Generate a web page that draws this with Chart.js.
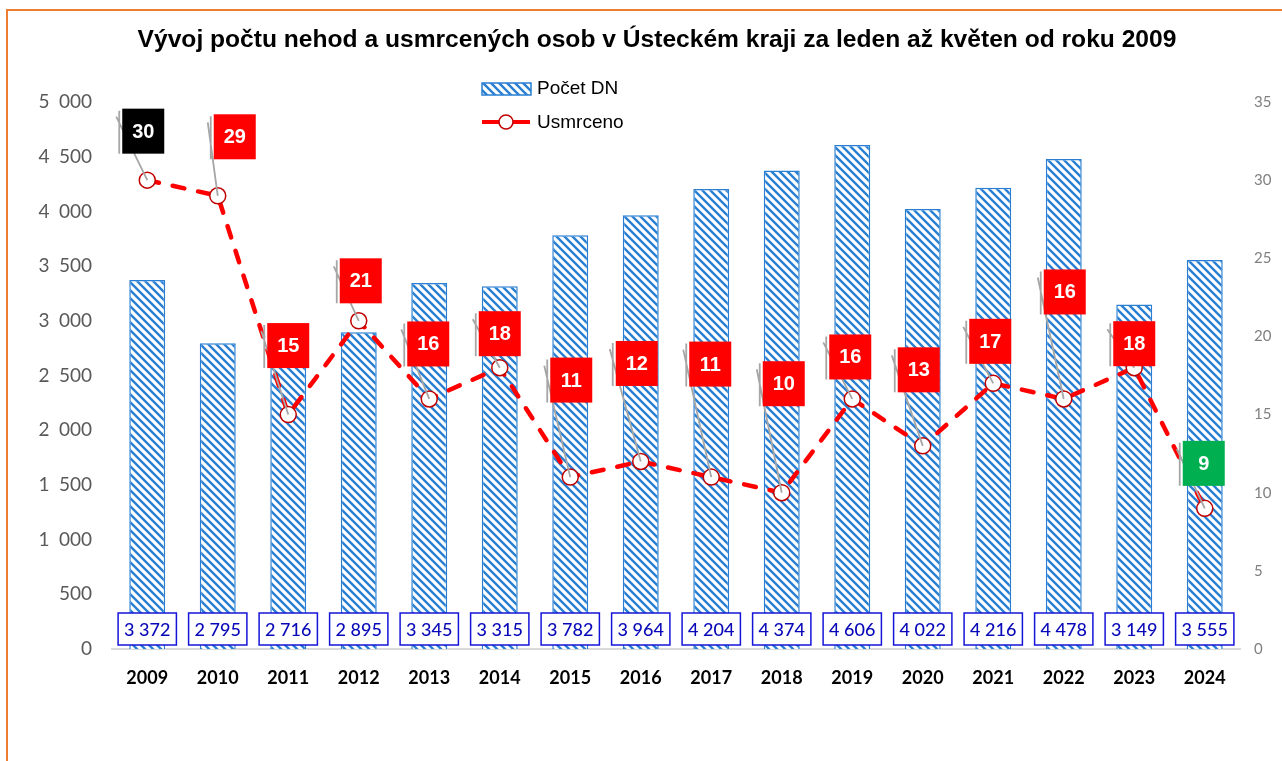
<!DOCTYPE html>
<html>
<head>
<meta charset="utf-8">
<script src="https://cdn.jsdelivr.net/npm/chart.js@4.4.1/dist/chart.umd.min.js"></script>
<style>
  body { margin: 0; background: #fff; }
  #wrap { position: relative; width: 1282px; height: 761px; }
  #frame { position: absolute; left: 6px; top: 9px; right: -4px; bottom: -4px;
           border-left: 2px solid #ED7D31; border-top: 2px solid #ED7D31; }
  canvas { position: absolute; left: 0; top: 0; }
</style>
</head>
<body>
<div id="wrap">
  <div id="frame"></div>
  <canvas id="chart" width="1282" height="761"></canvas>
</div>
<script>
// data
const years = ['2009', '2010', '2011', '2012', '2013', '2014', '2015', '2016',
               '2017', '2018', '2019', '2020', '2021', '2022', '2023', '2024'];
const accidents = [3372, 2795, 2716, 2895, 3345, 3315, 3782, 3964,
                   4204, 4374, 4606, 4022, 4216, 4478, 3149, 3555];
const killed = [30, 29, 15, 21, 16, 18, 11, 12, 11, 10, 16, 13, 17, 16, 18, 9];

// where each callout box sits relative to its marker (px)
const calloutDx = [-4, 17, 0, 2, -1, 0, 1, -4, -1, 2, -2, -4, -3, 1, 0, -1];
const calloutDy = [-49, -59, -69, -40, -55, -34, -97, -98, -113, -109, -42, -76, -42, -107, -24, -45];

const blue = '#2a7fd2';
const group = (v, sep) => String(v).replace(/\B(?=(\d{3})+(?!\d))/g, sep);

function makeHatch() {
  const c = document.createElement('canvas');
  c.width = 8; c.height = 8;
  const g = c.getContext('2d');
  g.fillStyle = '#fff';
  g.fillRect(0, 0, 8, 8);
  g.strokeStyle = blue;
  g.lineWidth = 2.4;
  g.beginPath();
  g.moveTo(-2, -2); g.lineTo(10, 10);
  g.moveTo(-2, 6); g.lineTo(2, 10);
  g.moveTo(6, -2); g.lineTo(10, 2);
  g.stroke();
  return g.createPattern(c, 'repeat');
}
const hatch = makeHatch();

const maxKilled = Math.max(...killed);
const minKilled = Math.min(...killed);

const labelsPlugin = {
  id: 'labels',
  afterDatasetsDraw(chart) {
    const ctx = chart.ctx;
    const barMeta = chart.getDatasetMeta(0);
    const lineMeta = chart.getDatasetMeta(1);
    const bottom = chart.scales.y.bottom;

    // value boxes at foot of bars
    ctx.save();
    ctx.font = '500 18px Lato';
    ctx.textAlign = 'center';
    ctx.textBaseline = 'middle';
    barMeta.data.forEach((bar, i) => {
      const txt = group(accidents[i], ' ');
      const w = ctx.measureText(txt).width + 12;
      const h = 32;
      const cy = bottom - 20;
      ctx.fillStyle = '#fff';
      ctx.fillRect(bar.x - w / 2, cy - h / 2, w, h);
      ctx.strokeStyle = '#1414d8';
      ctx.lineWidth = 1.5;
      ctx.strokeRect(bar.x - w / 2, cy - h / 2, w, h);
      ctx.fillStyle = '#0808b8';
      ctx.fillText(txt, bar.x, cy + 1);
    });
    ctx.restore();

    // callouts for killed
    ctx.save();
    ctx.font = 'bold 20px "Liberation Sans"';
    ctx.textAlign = 'center';
    ctx.textBaseline = 'middle';
    lineMeta.data.forEach((pt, i) => {
      const bw = 42, bh = 45;
      const cx = pt.x + calloutDx[i];
      const cy = pt.y + calloutDy[i];
      const left = cx - bw / 2, top = cy - bh / 2;
      ctx.strokeStyle = '#a6a6a6';
      ctx.lineWidth = 1.8;
      ctx.beginPath();
      ctx.moveTo(left - 3, top + 2);
      ctx.lineTo(left - 3, top + bh);
      ctx.moveTo(left - 6, top + 8);
      ctx.lineTo(pt.x, pt.y);
      ctx.stroke();
      let col = '#ff0000';
      if (killed[i] === maxKilled) col = '#000000';
      if (killed[i] === minKilled) col = '#00b050';
      ctx.fillStyle = col;
      ctx.fillRect(left, top, bw, bh);
      ctx.fillStyle = '#fff';
      ctx.fillText(String(killed[i]), cx, cy + 1);
    });
    ctx.restore();
  },
  afterDraw(chart) {
    // legend
    const ctx = chart.ctx;
    ctx.save();
    ctx.fillStyle = hatch;
    ctx.fillRect(482, 83, 49, 12);
    ctx.strokeStyle = blue;
    ctx.lineWidth = 1.5;
    ctx.strokeRect(482, 83, 49, 12);
    ctx.strokeStyle = '#ff0000';
    ctx.lineWidth = 4;
    ctx.beginPath();
    ctx.moveTo(482, 122);
    ctx.lineTo(530, 122);
    ctx.stroke();
    ctx.fillStyle = '#fff';
    ctx.strokeStyle = '#c00000';
    ctx.lineWidth = 1.5;
    ctx.beginPath();
    ctx.arc(506, 122, 7, 0, Math.PI * 2);
    ctx.fill();
    ctx.stroke();
    ctx.fillStyle = '#000';
    ctx.font = '19px "Liberation Sans"';
    ctx.textBaseline = 'middle';
    ctx.fillText(chart.data.datasets[0].label, 537, 89);
    ctx.fillText(chart.data.datasets[1].label, 537, 123);
    ctx.restore();
  }
};

new Chart(document.getElementById('chart').getContext('2d'), {
  data: {
    labels: years,
    datasets: [{
      type: 'bar',
      label: 'Počet DN',
      data: accidents,
      backgroundColor: hatch,
      borderColor: blue,
      borderWidth: 1.5,
      barPercentage: 0.51,
      categoryPercentage: 1,
      yAxisID: 'y',
      order: 2
    }, {
      type: 'line',
      label: 'Usmrceno',
      data: killed,
      borderColor: '#ff0000',
      borderWidth: 4.5,
      borderDash: [12, 14],
      borderCapStyle: 'round',
      tension: 0,
      pointRadius: 8,
      pointBackgroundColor: '#ffffff',
      pointBorderColor: '#c00000',
      pointBorderWidth: 1.5,
      yAxisID: 'y1',
      order: 1
    }]
  },
  options: {
    responsive: false,
    animation: false,
    events: [],
    layout: { padding: { left: 32, right: 0, top: 0, bottom: 0 } },
    plugins: {
      legend: { display: false },
      tooltip: { enabled: false },
      title: {
        display: true,
        text: 'Vývoj počtu nehod a usmrcených osob v Ústeckém kraji za leden až květen od roku 2009',
        color: '#000',
        font: { family: 'Liberation Sans', size: 24.6, weight: 'bold' },
        padding: { top: 25, bottom: 47.5 }
      }
    },
    scales: {
      x: {
        grid: { display: false, drawTicks: false },
        border: { display: true, color: '#d9d9d9', width: 2 },
        ticks: { color: '#000', font: { family: 'Lato', size: 18, weight: 'bold' }, padding: 18 },
        afterFit(scale) { scale.height = 112; }
      },
      y: {
        position: 'left',
        min: 0, max: 5000,
        grid: { display: false, drawTicks: false },
        border: { display: false },
        ticks: {
          stepSize: 500,
          color: '#595959',
          font: { family: 'Lato', size: 19 },
          padding: 20,
          callback: v => group(v, '\u2002')
        },
        afterFit(scale) { scale.width = 80; }
      },
      y1: {
        position: 'right',
        min: 0, max: 35,
        grid: { display: false, drawTicks: false },
        border: { display: false },
        ticks: {
          stepSize: 5,
          color: '#808080',
          font: { family: 'Lato', size: 15 },
          padding: 14
        },
        afterFit(scale) { scale.width = 42; }
      }
    }
  },
  plugins: [labelsPlugin]
});
</script>
</body>
</html>
